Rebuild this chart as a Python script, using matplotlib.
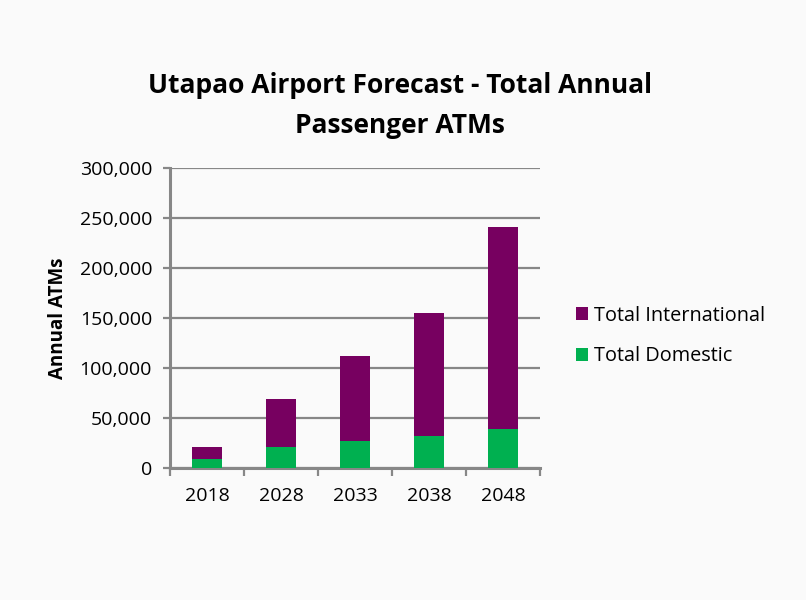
import numpy as np
import matplotlib.pyplot as plt
from matplotlib.ticker import FuncFormatter, FixedLocator

years = ["2018", "2028", "2033", "2038", "2048"]
domestic = [9300, 21300, 27000, 32000, 39000]
international = [11700, 47500, 85000, 123000, 202000]

plt.rcParams['font.family'] = ['Open Sans', 'DejaVu Sans']

bg = "#fafafa"
grid_c = "#878787"
fig = plt.figure(figsize=(8.06, 6), dpi=100, facecolor=bg)
ax = fig.add_axes([0.211, 0.22, 0.459, 0.50], facecolor=bg)

x = np.arange(len(years))
ax.bar(x, domestic, width=0.4, color="#00b050", label="Total Domestic", zorder=3)
ax.bar(x, international, width=0.4, bottom=domestic, color="#770060",
       label="Total International", zorder=3)

ax.set_ylim(0, 300000)
ax.set_xlim(-0.5, len(years) - 0.5)
ax.set_yticks(np.arange(0, 300001, 50000))
ax.yaxis.set_major_formatter(FuncFormatter(lambda v, p: f"{int(v):,}"))
ax.yaxis.grid(True, color=grid_c, linewidth=1.6, zorder=0)

ax.set_xticks(x)
ax.set_xticklabels(years)
ax.xaxis.set_minor_locator(FixedLocator(np.arange(-0.5, len(years), 1.0)))
ax.tick_params(axis="x", which="major", length=0, labelsize=14, pad=14)
ax.tick_params(axis="x", which="minor", length=6, width=1.6, color=grid_c)
ax.tick_params(axis="y", length=5, width=1.6, color=grid_c, labelsize=14, pad=8)

for s in ["top", "right"]:
    ax.spines[s].set_visible(False)
for s in ["left", "bottom"]:
    ax.spines[s].set_color(grid_c)
    ax.spines[s].set_linewidth(2.2)

ax.set_ylabel("Annual ATMs", fontsize=13.5, fontweight="bold", labelpad=8)
fig.suptitle("Utapao Airport Forecast - Total Annual\nPassenger ATMs",
             x=0.496, y=0.88, fontsize=19, fontweight="bold", linespacing=1.6)

h, l = ax.get_legend_handles_labels()
fig.legend(h[::-1], l[::-1], loc="center left", bbox_to_anchor=(0.692, 0.44),
           frameon=False, fontsize=14.3, handlelength=0.6, handleheight=0.6,
           handletextpad=0.3, labelspacing=1.05)

fig.savefig("out.png", dpi=100, facecolor=bg)
